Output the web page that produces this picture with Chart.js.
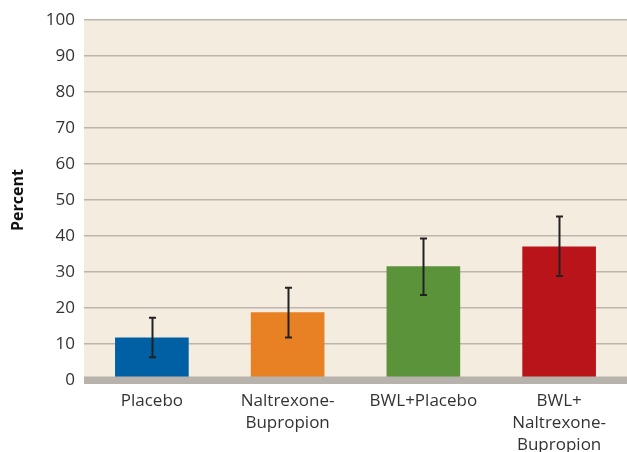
<!DOCTYPE html>
<html>
<head>
<meta charset="utf-8">
<script src="https://cdn.jsdelivr.net/npm/chart.js@4/dist/chart.umd.min.js"></script>
<style>
  html, body { margin: 0; padding: 0; background: #ffffff; }
  #wrap { width: 627px; height: 452px; position: relative; }
</style>
</head>
<body>
<div id="wrap"><canvas id="chart" width="627" height="452"></canvas></div>
<script>
// Treatment groups shown along the x axis
const categories = [
  ['Placebo'],
  ['Naltrexone-', 'Bupropion'],
  ['BWL+Placebo'],
  ['BWL+', 'Naltrexone-', 'Bupropion']
];
// Percent of participants per group, with the lower and upper ends of each error bar
const percentValues = [11.7, 18.7, 31.5, 37.0];
const errorLow = [6.3, 11.8, 23.6, 28.9];
const errorHigh = [17.3, 25.6, 39.3, 45.4];
const barColors = ['#0060a3', '#e88024', '#5b933b', '#b9141a'];
const yTicks = [0, 10, 20, 30, 40, 50, 60, 70, 80, 90, 100];

// Beige plot background
const plotBackground = {
  id: 'plotBackground',
  beforeDraw(chart) {
    const { ctx, chartArea: a } = chart;
    ctx.save();
    ctx.fillStyle = '#f5ece0';
    ctx.fillRect(a.left, a.top, a.right - a.left, a.bottom - a.top);
    ctx.restore();
  }
};

// Thick grey baseline at zero plus the error bars
const baselineAndErrors = {
  id: 'baselineAndErrors',
  afterDatasetsDraw(chart) {
    const { ctx, chartArea: a, scales } = chart;
    const y = scales.y;
    const y0 = y.getPixelForValue(0);
    ctx.save();
    ctx.fillStyle = '#b8b2ac';
    ctx.fillRect(a.left, y0 - 3.5, a.right - a.left, 7.5);

    const meta = chart.getDatasetMeta(0);
    ctx.strokeStyle = '#222222';
    ctx.lineWidth = 2;
    meta.data.forEach((bar, i) => {
      const x = Math.round(bar.x) + 0.5;
      const yl = y.getPixelForValue(errorLow[i]);
      const yh = y.getPixelForValue(errorHigh[i]);
      ctx.beginPath();
      ctx.moveTo(x, yl);
      ctx.lineTo(x, yh);
      ctx.moveTo(x - 3.5, yh);
      ctx.lineTo(x + 3.5, yh);
      ctx.moveTo(x - 3.5, yl);
      ctx.lineTo(x + 3.5, yl);
      ctx.stroke();
    });
    ctx.restore();
  }
};

new Chart(document.getElementById('chart'), {
  type: 'bar',
  data: {
    labels: categories,
    datasets: [{
      data: percentValues,
      backgroundColor: barColors,
      borderWidth: 0,
      barThickness: 73
    }]
  },
  options: {
    responsive: false,
    animation: false,
    layout: { padding: { top: 20, right: 0, bottom: 0, left: 0 } },
    plugins: {
      legend: { display: false },
      tooltip: { enabled: false }
    },
    scales: {
      x: {
        grid: { display: false, drawTicks: false },
        border: { display: false },
        ticks: {
          color: '#333333',
          font: { family: 'Open Sans', size: 17, lineHeight: 1.3 },
          padding: 10,
          maxRotation: 0,
          autoSkip: false
        },
        afterFit(scale) { scale.height = 72; }
      },
      y: {
        min: 0,
        max: 100,
        afterBuildTicks(scale) { scale.ticks = yTicks.map(v => ({ value: v })); },
        grid: { color: '#bdb5ad', lineWidth: 1.5, drawTicks: false },
        border: { display: false },
        ticks: {
          color: '#333333',
          font: { family: 'Open Sans', size: 17 },
          padding: 9
        },
        title: {
          display: true,
          text: 'Percent',
          color: '#111111',
          font: { family: 'Open Sans', size: 16, weight: 'bold' },
          padding: { top: 9, bottom: 0 }
        },
        afterFit(scale) { scale.width = 84; }
      }
    }
  },
  plugins: [plotBackground, baselineAndErrors]
});
</script>
</body>
</html>
